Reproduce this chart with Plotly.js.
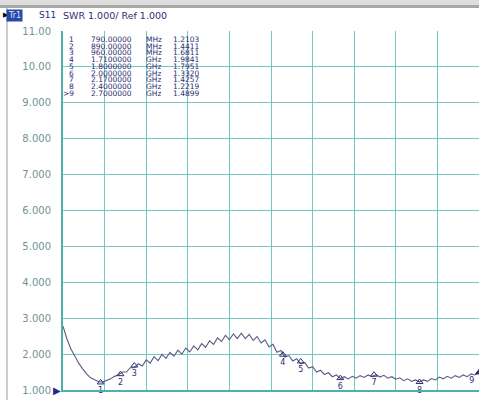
<!DOCTYPE html>
<html>
<head>
<meta charset="utf-8">
<script src="https://cdn.plot.ly/plotly-3.0.1.min.js"></script>
<style>html,body{margin:0;padding:0;background:#fff;}#chart{width:479px;height:400px;}</style>
</head>
<body>
<div id="chart"></div>
<script>
// Sweep frequency (MHz) and measured SWR
const freqMHz = [600,620,640,660,680,700,720,740,760,780,800,820,840,860,880,900,920,940,960,980,
1000,1020,1040,1060,1080,1100,1120,1140,1160,1180,1200,1220,1240,1260,1280,1300,1320,1340,1360,1380,
1400,1420,1440,1460,1480,1500,1520,1540,1560,1580,1600,1620,1640,1660,1680,1700,1720,1740,1760,1780,
1800,1820,1840,1860,1880,1900,1920,1940,1960,1980,2000,2020,2040,2060,2080,2100,2120,2140,2160,2180,
2200,2220,2240,2260,2280,2300,2320,2340,2360,2380,2400,2420,2440,2460,2480,2500,2520,2540,2560,2580,
2600,2620,2640,2660,2680,2700];
const swr = [2.78,2.42,2.14,1.92,1.74,1.58,1.44,1.34,1.28,1.23,1.22,1.26,1.31,1.38,1.42,1.50,1.50,1.62,1.62,1.73,
1.67,1.84,1.75,1.93,1.82,1.99,1.88,2.05,1.94,2.11,2.00,2.17,2.06,2.23,2.12,2.29,2.19,2.37,2.27,2.45,
2.35,2.52,2.40,2.56,2.43,2.58,2.43,2.55,2.38,2.49,2.31,2.40,2.20,2.27,2.05,2.10,1.92,1.96,1.81,1.87,
1.73,1.77,1.61,1.65,1.50,1.55,1.43,1.48,1.37,1.42,1.32,1.37,1.31,1.38,1.33,1.40,1.35,1.42,1.37,1.43,
1.36,1.41,1.33,1.37,1.30,1.34,1.26,1.31,1.24,1.28,1.22,1.28,1.24,1.32,1.28,1.36,1.31,1.38,1.33,1.40,
1.35,1.42,1.37,1.45,1.42,1.49];

// Marker readout
const markerNum = [1,2,3,4,5,6,7,8,9];
const markerFreqMHz = [790,890,960,1710,1800,2000,2170,2400,2700];
const markerVal = [1.2103,1.4411,1.6811,1.9841,1.7951,1.3320,1.4257,1.2219,1.4899];

// Y tick labels
const yTickVals = [1,2,3,4,5,6,7,8,9,10,11];
const yTickText = ["1.000","2.000","3.000","4.000","5.000","6.000","7.000","8.000","9.000","10.00","11.00"];

const headerTrace = "Tr1";
const headerParam = "S11";
const headerScale = "SWR 1.000/ Ref 1.000";

// pixel helpers for paper coordinates
const L = 63, W = 416, B = 390, H = 359;
const px = v => (v - L) / W;
const py = v => (B - v) / H;

const navy = '#2e2e72';
const traceCol = '#5a5a84';
const gridCol = '#74c6c2';

const traces = [
  {x: freqMHz, y: swr, type: 'scatter', mode: 'lines',
   line: {color: traceCol, width: 1.1}, hoverinfo: 'skip'},
  {x: markerFreqMHz, y: markerVal, type: 'scatter', mode: 'markers+text',
   text: markerNum.map(String),
   textposition: markerNum.map(n => n === 9 ? 'bottom left' : 'bottom center'),
   textfont: {family: 'DejaVu Sans', size: 8, color: navy},
   marker: {symbol: markerNum.map(n => n === 9 ? 'triangle-up' : 'triangle-up-open'),
            size: 6, color: navy, line: {color: navy, width: 1}},
   cliponaxis: false, hoverinfo: 'skip'},
  {x: markerFreqMHz, y: markerFreqMHz.map(() => 0.85), type: 'scatter', mode: 'markers',
   marker: {symbol: markerNum.map(n => n === 9 ? 'triangle-up' : 'triangle-up-open'),
            size: 9, color: '#5a5a92', line: {color: '#5a5a92', width: 1}},
   cliponaxis: false, hoverinfo: 'skip'}
];

const ann = [];
const rowY0 = 39, rowStep = 6.72;
markerNum.forEach((n, i) => {
  const yy = py(rowY0 + i * rowStep);
  const f = markerFreqMHz[i];
  const isG = f >= 1000;
  const fTxt = isG ? (f / 1000).toFixed(7) : f.toFixed(5);
  const font = {family: 'DejaVu Sans', size: 7.5, color: navy};
  const base = {xref: 'paper', yref: 'paper', y: yy, yanchor: 'middle', showarrow: false,
                font: font, borderpad: 0, height: 6, valign: 'middle'};
  ann.push(Object.assign({}, base, {x: px(74.5), xanchor: 'right', text: (n === 9 ? '>' : '') + n}));
  ann.push(Object.assign({}, base, {x: px(90), xanchor: 'left', text: fTxt}));
  ann.push(Object.assign({}, base, {x: px(145), xanchor: 'left', text: isG ? 'GHz' : 'MHz'}));
  ann.push(Object.assign({}, base, {x: px(172), xanchor: 'left', text: markerVal[i].toFixed(4)}));
});
// header
ann.push({xref: 'paper', yref: 'paper', x: px(1), y: py(15.5), xanchor: 'left', yanchor: 'middle',
          text: '▶', showarrow: false, font: {family: 'DejaVu Sans', size: 7, color: '#000'}});
ann.push({xref: 'paper', yref: 'paper', x: px(6), y: py(15.5), xanchor: 'left', yanchor: 'middle',
          text: headerTrace, showarrow: false, bgcolor: '#2a46a6', borderpad: 1,
          font: {family: 'DejaVu Sans', size: 8, color: '#dfe6ff'}});
ann.push({xref: 'paper', yref: 'paper', x: px(37), y: py(15.5), xanchor: 'left', yanchor: 'middle',
          text: headerParam, showarrow: false, font: {family: 'DejaVu Sans', size: 9, color: navy}});
ann.push({xref: 'paper', yref: 'paper', x: px(61), y: py(15.5), xanchor: 'left', yanchor: 'middle',
          text: headerScale, showarrow: false, font: {family: 'DejaVu Sans', size: 9.5, color: navy}});
// reference position indicator
ann.push({xref: 'paper', yref: 'paper', x: px(63), y: py(390.5), xanchor: 'right', yanchor: 'middle',
          text: '▶', showarrow: false, font: {family: 'DejaVu Sans', size: 10, color: '#1c2a8a'}});

const shapes = [
  {type: 'rect', xref: 'paper', yref: 'paper', x0: px(0), x1: px(479), y0: py(5), y1: py(0),
   fillcolor: '#dedede', line: {width: 0}, layer: 'below'},
  {type: 'rect', xref: 'paper', yref: 'paper', x0: px(0), x1: px(479), y0: py(8), y1: py(5),
   fillcolor: '#a8a8a8', line: {width: 0}, layer: 'below'},
  {type: 'line', xref: 'paper', yref: 'paper', x0: px(7), x1: px(7), y0: py(8), y1: py(400),
   line: {color: '#bdbdbd', width: 1.5}}
];

const layout = {
  width: 479, height: 400,
  margin: {l: 63, r: 0, t: 31, b: 10, pad: 0},
  paper_bgcolor: '#ffffff', plot_bgcolor: '#ffffff',
  showlegend: false,
  xaxis: {range: [600, 2700], tick0: 600, dtick: 210, showticklabels: false,
          showgrid: true, gridcolor: gridCol, gridwidth: 1, zeroline: false,
          showline: true, linecolor: '#4fb0aa', linewidth: 2, ticks: ''},
  yaxis: {range: [1, 11], tickvals: yTickVals, ticktext: yTickText,
          showgrid: true, gridcolor: gridCol, gridwidth: 1, zeroline: false,
          showline: true, linecolor: '#4fb0aa', linewidth: 2,
          ticks: 'outside', ticklen: 8, tickcolor: 'rgba(0,0,0,0)',
          tickfont: {family: 'DejaVu Sans', size: 10, color: '#6f9494'}},
  annotations: ann,
  shapes: shapes
};

Plotly.newPlot('chart', traces, layout, {staticPlot: true, displayModeBar: false});
</script>
</body>
</html>
